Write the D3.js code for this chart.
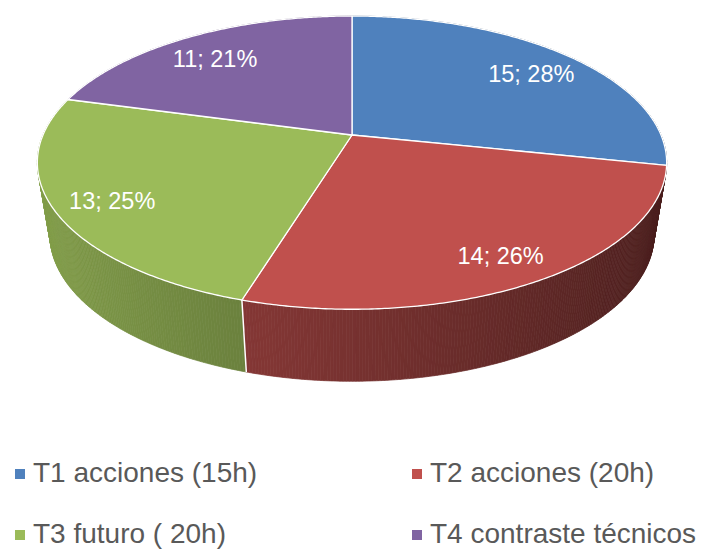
<!DOCTYPE html>
<html>
<head>
<meta charset="utf-8">
<script src="https://cdn.jsdelivr.net/npm/d3@7"></script>
<style>
  body { margin: 0; background: #fff; }
  svg { display: block; font-family: "Liberation Sans", Arial, sans-serif; }
</style>
</head>
<body>
<div class="chart"></div>
<script>
const names = ["T1 acciones (15h)", "T2 acciones (20h)", "T3 futuro ( 20h)", "T4 contraste técnicos"];
const values = [15, 14, 13, 11];
const colors = ["#4F81BD", "#C0504D", "#9BBB59", "#8064A2"];

const width = 702, height = 552;
const svg = d3.select(".chart").append("svg")
    .attr("width", width)
    .attr("height", height);

// perspective-ish projection of the unit disk
const cx = 352, cy = 135;
const A = 309, B = 141.4, k = 0.1886;
const depth = 72, shrink = 0.96;

function proj(u, v, z){
    let w = 1 - k * v;
    let sx = z ? shrink : 1;
    return [cx + A * u / w * sx, cy + B * v / w + z * depth];
}
function pt(theta, r, z){
    return proj(r * Math.sin(theta), -r * Math.cos(theta), z);
}

const total = d3.sum(values);
const arcs = d3.pie().sort(null)(values);

// sides, drawn back to front
const step = Math.PI / 360;
var quads = [];
arcs.forEach(function(a, i){
    for(let t = a.startAngle; t < a.endAngle - 1e-9; t += step){
        let t2 = Math.min(t + step, a.endAngle);
        let mid = (t + t2) / 2;
        let f = 0.62 - 0.24 * Math.sin(mid);
        let c = d3.rgb(colors[i]);
        let col = d3.rgb(c.r * f, c.g * f, c.b * f).formatHex();
        quads.push({
            v: -Math.cos(mid),
            pts: [pt(t, 1, 0), pt(t2, 1, 0), pt(t2, 1, 1), pt(t, 1, 1)],
            col: col
        });
    }
});
quads.sort(function(a, b){ return a.v - b.v; });

const gSide = svg.append("g");
gSide.selectAll("path")
    .data(quads)
    .join("path")
    .attr("d", d => "M" + d.pts.map(p => p.join(",")).join("L") + "Z")
    .attr("fill", d => d.col)
    .attr("stroke", d => d.col)
    .attr("stroke-width", 0.7);

// white edges between slices on the front of the side
arcs.forEach(function(a){
    let t = a.startAngle;
    if(-Math.cos(t) > 0.5){
        let p0 = pt(t, 1, 0), p1 = pt(t, 1, 1);
        svg.append("line")
            .attr("x1", p0[0]).attr("y1", p0[1])
            .attr("x2", p1[0]).attr("y2", p1[1])
            .attr("stroke", "#fff")
            .attr("stroke-width", 1.5);
    }
});

// top faces
const line = d3.line();
svg.append("g").selectAll("path")
    .data(arcs)
    .join("path")
    .attr("d", function(a){
        let pts = [proj(0, 0, 0)];
        let n = Math.ceil((a.endAngle - a.startAngle) / step);
        for(let j = 0; j <= n; j++){
            pts.push(pt(a.startAngle + (a.endAngle - a.startAngle) * j / n, 1, 0));
        }
        return line(pts) + "Z";
    })
    .attr("fill", (d, i) => colors[i])
    .attr("stroke", "#fff")
    .attr("stroke-width", 1.3)
    .attr("stroke-linejoin", "round");

// data labels
svg.append("g").selectAll("text")
    .data(arcs)
    .join("text")
    .attr("x", a => pt((a.startAngle + a.endAngle) / 2, 0.82, 0)[0])
    .attr("y", a => pt((a.startAngle + a.endAngle) / 2, 0.82, 0)[1] + 6)
    .attr("text-anchor", "middle")
    .attr("dominant-baseline", "central")
    .attr("fill", "#fff")
    .attr("font-size", 23.5)
    .text((a, i) => values[i] + "; " + Math.round(values[i] / total * 100) + "%");

// legend
const legX = [15, 412], legY = [482, 543];
const leg = svg.append("g").selectAll("g")
    .data(names)
    .join("g")
    .attr("transform", (d, i) => `translate(${legX[i % 2]},${legY[Math.floor(i / 2)]})`);
leg.append("rect")
    .attr("x", 0).attr("y", -13)
    .attr("width", 10).attr("height", 10)
    .attr("fill", (d, i) => colors[i]);
leg.append("text")
    .attr("x", 18)
    .attr("y", 0)
    .attr("fill", "#595959")
    .attr("font-size", 28)
    .text(d => d);
</script>
</body>
</html>
